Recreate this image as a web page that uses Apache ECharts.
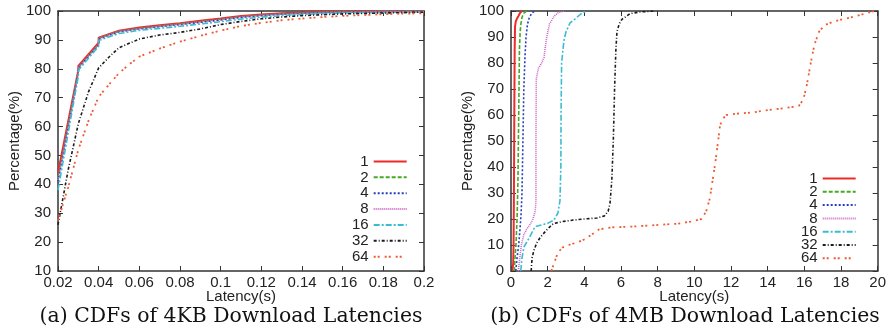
<!DOCTYPE html>
<html>
<head>
<meta charset="utf-8">
<script src="https://cdn.jsdelivr.net/npm/echarts@6/dist/echarts.min.js"></script>
<style>
html,body{margin:0;padding:0;background:#fff;}
#chart{width:889px;height:333px;}
</style>
</head>
<body>
<div id="chart"></div>
<script>
// ---- Data ----
const seriesNames = ['1', '2', '4', '8', '16', '32', '64'];
const titleA = '(a) CDFs of 4KB Download Latencies';
const titleB = '(b) CDFs of 4MB Download Latencies';
const xName = 'Latency(s)';
const yName = 'Percentage(%)';

// (a) 4KB download latency CDFs: [latency (s), percentage]
const kb_1 = [[0.02,44],[0.03,79.5],[0.03,81],[0.04,89],[0.04,90.8],[0.05,93.2],[0.06,94.3],[0.07,95.1],[0.08,95.8],[0.09,96.6],[0.1,97.4],[0.11,98.3],[0.12,98.8],[0.13,99.2],[0.14,99.5],[0.15,99.7],[0.16,99.8],[0.18,99.9],[0.2,100]];
const kb_2 = [[0.02,42],[0.03,79],[0.03,80.5],[0.04,88.5],[0.04,90.5],[0.05,93],[0.06,94],[0.07,94.8],[0.08,95.5],[0.09,96.3],[0.1,97.1],[0.11,98],[0.12,98.6],[0.13,99],[0.14,99.3],[0.15,99.5],[0.16,99.7],[0.18,99.8],[0.2,99.9]];
const kb_4 = [[0.02,41],[0.03,78.5],[0.03,80.2],[0.04,88.3],[0.04,90.3],[0.05,92.8],[0.06,93.8],[0.07,94.6],[0.08,95.3],[0.09,96.1],[0.1,96.9],[0.11,97.8],[0.12,98.4],[0.13,98.9],[0.14,99.2],[0.15,99.4],[0.16,99.6],[0.18,99.7],[0.2,99.9]];
const kb_8 = [[0.02,41.5],[0.03,78.8],[0.03,80.3],[0.04,88.4],[0.04,90.4],[0.05,92.9],[0.06,93.9],[0.07,94.7],[0.08,95.4],[0.09,96.2],[0.1,97],[0.11,97.9],[0.12,98.5],[0.13,98.9],[0.14,99.2],[0.15,99.5],[0.16,99.6],[0.18,99.8],[0.2,99.9]];
const kb_16 = [[0.02,38],[0.03,77.5],[0.03,79.5],[0.04,87.8],[0.04,89.8],[0.05,92.2],[0.06,93.3],[0.07,94],[0.08,94.7],[0.09,95.5],[0.1,96.3],[0.11,97.2],[0.12,97.9],[0.13,98.4],[0.14,98.8],[0.15,99.1],[0.16,99.3],[0.18,99.5],[0.2,99.7]];
const kb_32 = [[0.02,26],[0.025,45],[0.03,61],[0.035,72],[0.04,80.3],[0.045,84],[0.05,87.3],[0.055,88.8],[0.06,90.3],[0.07,91.7],[0.08,92.6],[0.09,93.8],[0.1,95.3],[0.11,96.4],[0.12,97.3],[0.13,97.9],[0.14,98.4],[0.15,98.7],[0.16,99],[0.18,99.3],[0.2,99.6]];
const kb_64 = [[0.02,27.5],[0.025,39],[0.03,52],[0.035,62],[0.04,70.3],[0.045,74.5],[0.05,78.5],[0.055,81.5],[0.06,84.2],[0.07,87],[0.08,89.4],[0.09,91.4],[0.1,93.2],[0.11,94.8],[0.12,95.9],[0.13,96.8],[0.14,97.4],[0.15,97.9],[0.16,98.3],[0.17,98.6],[0.18,98.9],[0.19,99.1],[0.2,99.2]];

// (b) 4MB download latency CDFs: [latency (s), percentage]
const mb_1 = [[0.08,0],[0.12,3],[0.14,10],[0.16,30],[0.18,60],[0.2,85],[0.22,94],[0.26,96],[0.32,97],[0.4,98],[0.5,99.3],[0.6,100]];
const mb_2 = [[0.18,0],[0.22,5],[0.27,10],[0.33,20],[0.38,35],[0.42,60],[0.46,85],[0.5,92],[0.54,95],[0.6,97.5],[0.7,99.2],[0.85,100]];
const mb_4 = [[0.26,0],[0.33,5],[0.42,10],[0.5,17],[0.55,22],[0.6,30],[0.65,50],[0.7,70],[0.76,82],[0.82,90],[0.9,95],[1.0,97.5],[1.15,99.3],[1.3,100]];
const mb_8 = [[0.4,0],[0.48,5],[0.57,10],[0.7,14],[0.85,16],[1.05,18],[1.2,20],[1.32,23],[1.36,27],[1.36,50],[1.38,74],[1.5,78],[1.67,80],[1.8,82],[1.87,86],[1.95,90],[2.1,95],[2.35,98],[2.6,99.5],[2.9,100]];
const mb_16 = [[0.53,0],[0.6,5],[0.71,9.3],[0.98,12.6],[1.31,17],[1.6,17.6],[2.02,18.4],[2.34,19.6],[2.56,22.3],[2.67,27],[2.72,40],[2.73,60],[2.76,80],[2.89,88.8],[3.0,92],[3.22,95.4],[3.5,97],[3.8,98.8],[4.1,100]];
const mb_32 = [[1.1,0],[1.15,5],[1.25,8],[1.4,10.7],[1.6,13],[1.95,15.8],[2.3,18.2],[2.8,19],[3.4,19.6],[4.0,20],[4.7,20.4],[5.1,21.2],[5.3,23],[5.4,26],[5.5,35],[5.58,50],[5.65,70],[5.72,85],[5.78,92],[5.9,95],[6.05,96.8],[6.5,99],[7.0,99.6],[7.8,100]];
const mb_64 = [[2.2,0],[2.3,2],[2.4,4],[2.55,7],[2.8,9],[3.15,10],[3.6,11],[4.05,12.3],[4.4,14],[4.8,16],[5.5,16.8],[6.4,17],[7.3,17.4],[8.2,17.8],[9.1,18.2],[9.8,19],[10.4,20],[10.65,23],[10.85,28],[11.0,35],[11.15,42],[11.3,50],[11.4,56],[11.55,58.5],[11.75,60],[12.3,60.5],[13.2,61],[14.1,62],[15.0,62.7],[15.7,63.5],[15.95,66],[16.15,72],[16.35,80],[16.55,87],[16.8,92],[17.1,94.5],[17.6,96],[18.2,97],[18.8,98],[19.3,99],[19.8,100]];

const kbData = [kb_1, kb_2, kb_4, kb_8, kb_16, kb_32, kb_64];
const mbData = [mb_1, mb_2, mb_4, mb_8, mb_16, mb_32, mb_64];

// ---- Styles ----
const colors = ['#ee2a2a', '#44aa22', '#2a3cc0', '#cc66c8', '#3cbcd0', '#1a1a1a', '#f05a32'];
const dashes = ['solid', [4, 2], [2, 2], [1, 1], [6, 2, 2, 2], [3, 2, 1, 2], [2, 2, 2, 5]];
const widths = [2, 1.6, 1.6, 1.6, 1.6, 1.6, 1.8];

const FONT = 'Liberation Sans';
const axisColor = '#333';

function makeSeries(data, xi, yi) {
  return data.map((d, i) => ({
    name: seriesNames[i],
    type: 'line',
    xAxisIndex: xi,
    yAxisIndex: yi,
    data: d,
    symbol: 'none',
    showSymbol: false,
    animation: false,
    lineStyle: { color: colors[i], width: widths[i], type: dashes[i] },
    itemStyle: { color: colors[i] },
    z: 2 + i
  }));
}

function xAxisPair(gi, min, max, interval) {
  const base = {
    gridIndex: gi, type: 'value', min: min, max: max, interval: interval,
    axisLine: { show: true, onZero: false, lineStyle: { color: axisColor, width: 1.5 } },
    axisTick: { show: true, inside: true, length: 5, lineStyle: { color: axisColor, width: 1 } },
    splitLine: { show: false }
  };
  return [
    Object.assign({}, base, {
      position: 'bottom',
      name: xName, nameLocation: 'middle', nameGap: 18, nameMoveOverlap: false,
      nameTextStyle: { fontFamily: FONT, fontSize: 15, color: '#222' },
      axisLabel: { show: true, margin: 4, fontFamily: FONT, fontSize: 15, color: '#222' }
    }),
    Object.assign({}, base, { position: 'top', axisLabel: { show: false } })
  ];
}

function yAxisPair(gi, min, max, interval) {
  const base = {
    gridIndex: gi, type: 'value', min: min, max: max, interval: interval,
    axisLine: { show: true, onZero: false, lineStyle: { color: axisColor, width: 1.5 } },
    axisTick: { show: true, inside: true, length: 5, lineStyle: { color: axisColor, width: 1 } },
    splitLine: { show: false }
  };
  return [
    Object.assign({}, base, {
      position: 'left',
      name: yName, nameLocation: 'middle', nameGap: 36, nameRotate: 90,
      nameTextStyle: { fontFamily: FONT, fontSize: 15, color: '#222' },
      axisLabel: { show: true, margin: 7, fontFamily: FONT, fontSize: 15, color: '#222' }
    }),
    Object.assign({}, base, { position: 'right', axisLabel: { show: false } })
  ];
}

function legend(left, top, itemHeight, gap) {
  return {
    orient: 'vertical', left: left, top: top, align: 'right',
    itemWidth: 33, itemHeight: itemHeight, itemGap: gap,
    selectedMode: false, padding: 0,
    data: seriesNames,
    itemStyle: { color: 'transparent', borderColor: 'transparent', borderWidth: 0, opacity: 0 },
    textStyle: { fontFamily: FONT, fontSize: 15, color: '#222', width: 22, align: 'right' }
  };
}

const chart = echarts.init(document.getElementById('chart'), null, { renderer: 'canvas' });
const option = {
  animation: false,
  backgroundColor: '#fff',
  grid: [
    { left: 58, top: 11, width: 366, height: 260 },
    { left: 511, top: 11, width: 367, height: 260 }
  ],
  xAxis: [].concat(xAxisPair(0, 0.02, 0.2, 0.02), xAxisPair(1, 0, 20, 2)),
  yAxis: [].concat(yAxisPair(0, 10, 100, 10), yAxisPair(1, 0, 100, 10)),
  legend: [
    legend(352, 154, 14, 0.86),
    legend(801, 171, 13, -1.7)
  ],
  graphic: [
    { type: 'text', x: 231, y: 317, style: { text: titleA, fontFamily: 'DejaVu Serif', fontSize: 20.4, fill: '#111', textAlign: 'center', textVerticalAlign: 'middle' } },
    { type: 'text', x: 685, y: 317, style: { text: titleB, fontFamily: 'DejaVu Serif', fontSize: 20.4, fill: '#111', textAlign: 'center', textVerticalAlign: 'middle' } }
  ],
  series: [].concat(makeSeries(kbData, 0, 0), makeSeries(mbData, 2, 2))
};
chart.setOption(option);
</script>
</body>
</html>
